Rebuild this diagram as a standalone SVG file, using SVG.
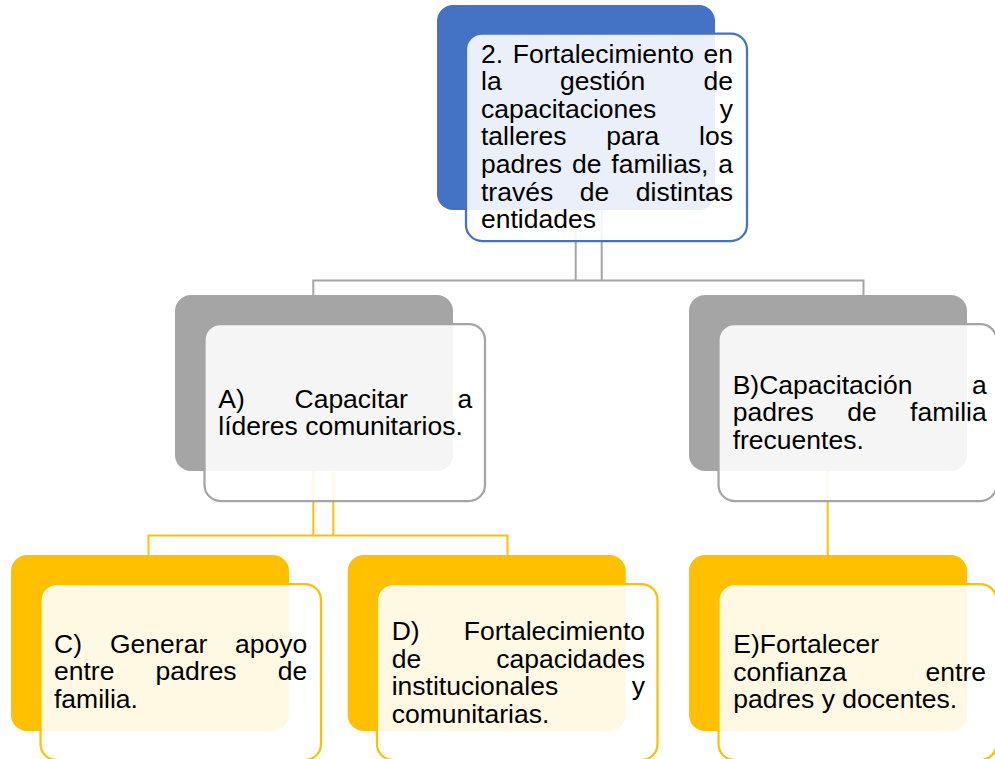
<svg xmlns="http://www.w3.org/2000/svg" width="995" height="759" viewBox="0 0 995 759">
<style>
text{font-family:"Liberation Sans",Arial,sans-serif;font-size:26.5px;fill:#000}
.e{text-anchor:end}
.back{stroke:none}
.front{fill:#fff;fill-opacity:0.89;stroke-width:2.25}
.blue .back{fill:#4472C4}.blue .front{stroke:#4472C4}
.grey .back{fill:#A5A5A5}.grey .front{stroke:#A5A5A5}
.gold .back{fill:#FFC000}.gold .front{stroke:#FFC000}
.cg{stroke:#A5A5A5;stroke-width:2;fill:none}
.cy{stroke:#FFC000;stroke-width:2;fill:none}
</style>
<rect width="995" height="759" fill="#fff"/>
<g id="connectors">
<path class="cg" d="M575.7 210V280.5M601.7 210V280.5M313.3 280.5H863.5M313.3 279.5V296M863.5 279.5V296"/>
<path class="cy" d="M313.3 471V535.5M333.3 471V535.5M148.5 535.5H507.5M148.5 534.5V556M507.5 534.5V556M827.7 471V556"/>
</g>
<g id="node-top" class="blue">
<rect class="back" x="437" y="5" width="278" height="205" rx="16"/>
<rect class="front" x="466" y="33.5" width="281" height="207.5" rx="16"/>
<text x="481" y="62.5">2.<tspan x="512.8">Fortalecimiento</tspan><tspan class="e" x="733">en</tspan></text>
<text x="481" y="90.1">la<tspan x="559.9">gestión</tspan><tspan class="e" x="733">de</tspan></text>
<text x="481" y="117.7">capacitaciones<tspan class="e" x="733">y</tspan></text>
<text x="481" y="145.3">talleres<tspan x="606.3">para</tspan><tspan class="e" x="733">los</tspan></text>
<text x="481" y="172.9">padres<tspan x="571.9">de</tspan><tspan x="611.3">familias,</tspan><tspan class="e" x="733">a</tspan></text>
<text x="481" y="200.5">través<tspan x="579.8">de</tspan><tspan class="e" x="733">distintas</tspan></text>
<text x="481" y="228.1">entidades</text>
</g>
<g id="node-A" class="grey">
<rect class="back" x="175" y="295" width="278" height="176" rx="16"/>
<rect class="front" x="204.5" y="324" width="280.5" height="177" rx="16"/>
<text x="218.3" y="407.5">A)<tspan x="294.5">Capacitar</tspan><tspan class="e" x="472.3">a</tspan></text>
<text x="218.3" y="435.1">líderes comunitarios.</text>
</g>
<g id="node-B" class="grey">
<rect class="back" x="689" y="295" width="278" height="176" rx="16"/>
<rect class="front" x="718.5" y="324" width="278" height="177" rx="16"/>
<text x="732.7" y="393.5">B)Capacitación<tspan class="e" x="986.7">a</tspan></text>
<text x="732.7" y="421.1">padres<tspan x="847.2">de</tspan><tspan class="e" x="986.7">familia</tspan></text>
<text x="732.7" y="448.7">frecuentes.</text>
</g>
<g id="node-C" class="gold">
<rect class="back" x="11" y="555" width="278" height="176" rx="16"/>
<rect class="front" x="40.5" y="584" width="280.5" height="176" rx="16"/>
<text x="54" y="652.8">C)<tspan x="110">Generar</tspan><tspan class="e" x="307.3">apoyo</tspan></text>
<text x="54" y="680.4">entre<tspan x="155.6">padres</tspan><tspan class="e" x="307.3">de</tspan></text>
<text x="54" y="708">familia.</text>
</g>
<g id="node-D" class="gold">
<rect class="back" x="347.7" y="555" width="278" height="176" rx="16"/>
<rect class="front" x="377" y="584" width="280.5" height="176" rx="16"/>
<text x="391.7" y="640">D)<tspan class="e" x="645">Fortalecimiento</tspan></text>
<text x="391.7" y="667.6">de<tspan class="e" x="645">capacidades</tspan></text>
<text x="391.7" y="695.2">institucionales<tspan class="e" x="645">y</tspan></text>
<text x="391.7" y="722.8">comunitarias.</text>
</g>
<g id="node-E" class="gold">
<rect class="back" x="689" y="555" width="278" height="176" rx="16"/>
<rect class="front" x="718.5" y="584" width="278" height="176" rx="16"/>
<text x="733.3" y="653.2">E)Fortalecer</text>
<text x="733.3" y="680.8">confianza<tspan class="e" x="986">entre</tspan></text>
<text x="733.3" y="708.4">padres y docentes.</text>
</g>
</svg>
